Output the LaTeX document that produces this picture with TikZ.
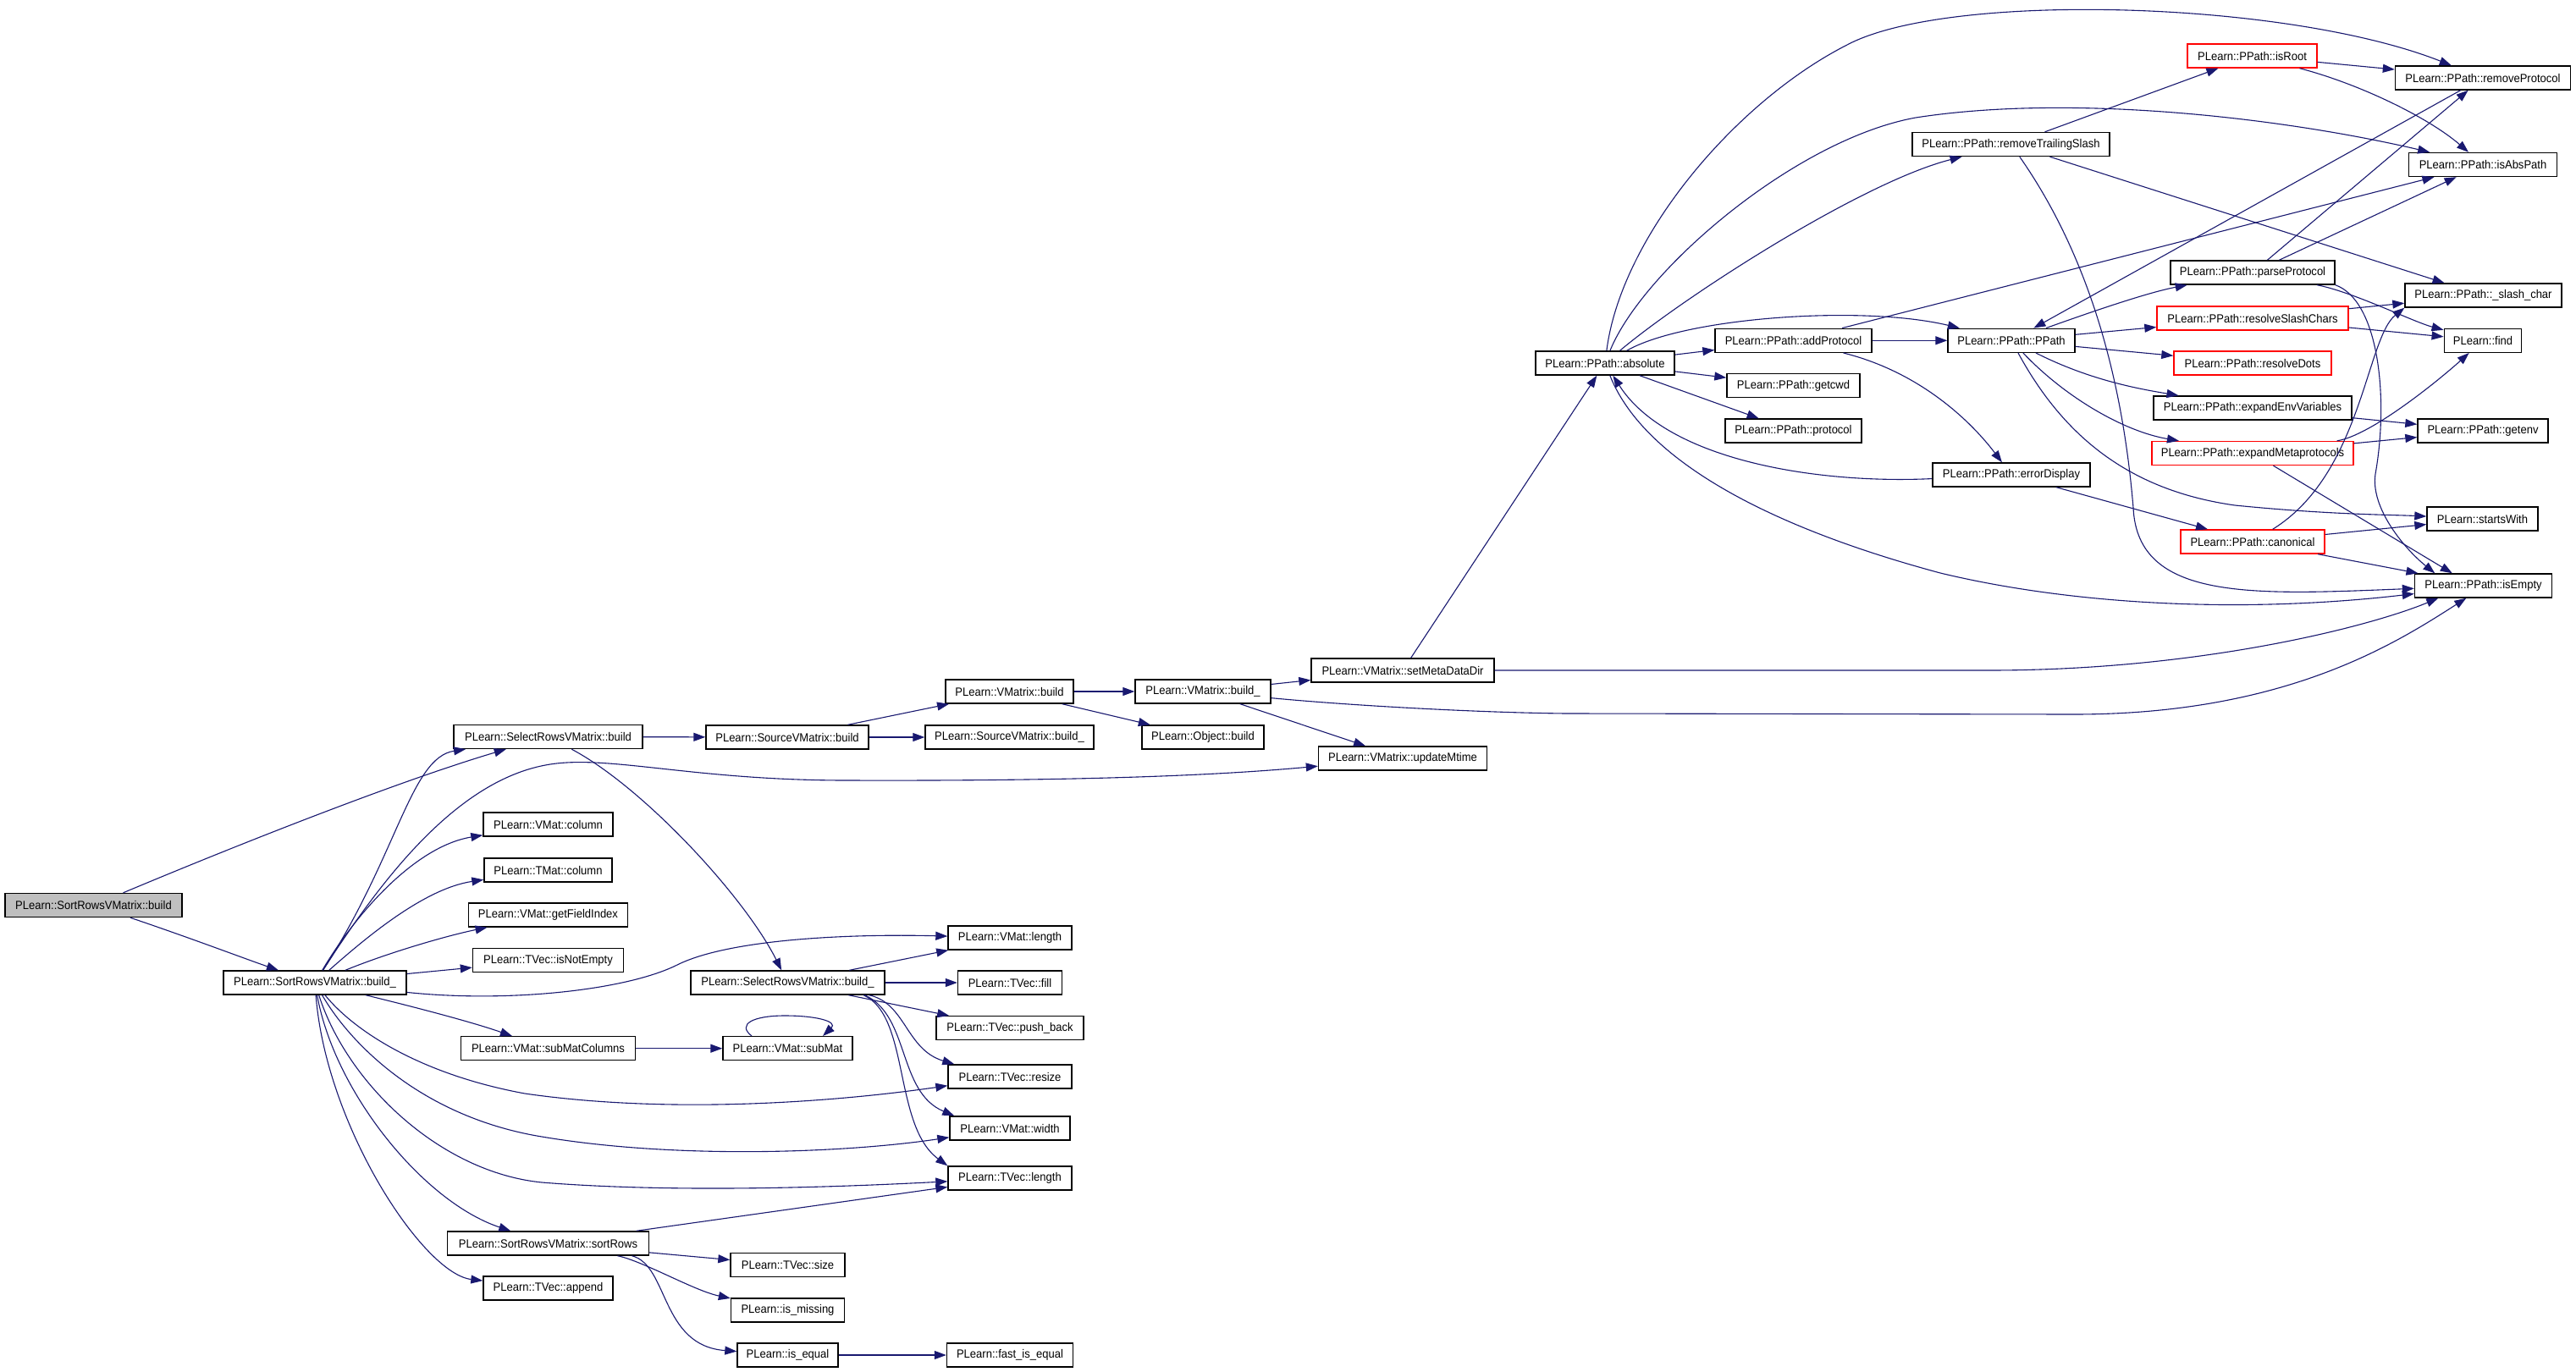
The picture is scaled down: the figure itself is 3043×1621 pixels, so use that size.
\documentclass[tikz,border=0pt]{standalone}
\usepackage{fontspec}
\setmainfont{Liberation Sans}[FakeStretch=0.93]
\usetikzlibrary{arrows.meta}
\definecolor{edgec}{RGB}{25,25,112}
\definecolor{rootfill}{RGB}{191,191,191}
\newcommand{\fnt}{\fontsize{7pt}{8pt}\selectfont}
\tikzset{
  box/.style={draw=black, line width=0.7pt, fill=white, minimum height=14pt, inner sep=0pt, font=\fnt},
  redbox/.style={box, draw=red},
  rootbox/.style={box, fill=rootfill},
  edge/.style={draw=edgec, line width=0.55pt, -{Triangle[length=7pt,width=5pt]}},
}
\begin{document}
\begin{tikzpicture}[x=0.5pt,y=-0.5pt]
\fill[white] (0,0) rectangle (3043,1621);
\useasboundingbox (0,0) rectangle (3043,1621);
% left part
\node[rootbox, minimum width=104.5pt] (A) at (110.5,1069.5) {PLearn::SortRowsVMatrix::build};
\node[box, minimum width=108pt] (B) at (372,1161) {PLearn::SortRowsVMatrix::build\_};
\node[box, minimum width=111.5pt] (SRb) at (647.5,870.5) {PLearn::SelectRowsVMatrix::build};
\node[box, minimum width=96pt] (SVb) at (930,871) {PLearn::SourceVMatrix::build};
\node[box, minimum width=75.5pt] (VMb) at (1192.5,817) {PLearn::VMatrix::build};
\node[box, minimum width=99.5pt] (SVbu) at (1192.5,871) {PLearn::SourceVMatrix::build\_};
\node[box, minimum width=80pt] (VMbu) at (1421,817) {PLearn::VMatrix::build\_};
\node[box, minimum width=72pt] (Ob) at (1421,871) {PLearn::Object::build};
\node[box, minimum width=108pt] (setMD) at (1657,792) {PLearn::VMatrix::setMetaDataDir};
\node[box, minimum width=99.5pt] (upd) at (1657,896) {PLearn::VMatrix::updateMtime};
\node[box, minimum width=76.5pt] (vcol) at (647.5,974) {PLearn::VMat::column};
\node[box, minimum width=75.5pt] (tcol) at (647.5,1028) {PLearn::TMat::column};
\node[box, minimum width=94pt] (gfi) at (647.5,1081) {PLearn::VMat::getFieldIndex};
\node[box, minimum width=89pt] (ine) at (647.5,1134.5) {PLearn::TVec::isNotEmpty};
\node[box, minimum width=114.5pt] (SRbu) at (930.5,1161) {PLearn::SelectRowsVMatrix::build\_};
\node[box, minimum width=103pt] (smc) at (647.5,1238.7) {PLearn::VMat::subMatColumns};
\node[box, minimum width=76.5pt] (sm) at (930.5,1238.7) {PLearn::VMat::subMat};
\node[box, minimum width=119pt] (sr) at (647.5,1469) {PLearn::SortRowsVMatrix::sortRows};
\node[box, minimum width=76.5pt] (app) at (647.5,1522) {PLearn::TVec::append};
\node[box, minimum width=67.5pt] (tsz) at (930.5,1494.7) {PLearn::TVec::size};
\node[box, minimum width=67pt] (ism) at (930.5,1548) {PLearn::is\_missing};
\node[box, minimum width=59.5pt] (ieq) at (930.5,1601) {PLearn::is\_equal};
\node[box, minimum width=73pt] (vlen) at (1193,1108) {PLearn::VMat::length};
\node[box, minimum width=61.5pt] (tfill) at (1193,1161) {PLearn::TVec::fill};
\node[box, minimum width=87pt] (pb) at (1193,1214.7) {PLearn::TVec::push\_back};
\node[box, minimum width=73pt] (rsz) at (1193,1272) {PLearn::TVec::resize};
\node[box, minimum width=71pt] (vw) at (1193,1333) {PLearn::VMat::width};
\node[box, minimum width=73pt] (tlen) at (1193,1392) {PLearn::TVec::length};
\node[box, minimum width=74.5pt] (fie) at (1193,1601) {PLearn::fast\_is\_equal};
% right part
\node[box, minimum width=82pt] (abs) at (1896,429) {PLearn::PPath::absolute};
\node[box, minimum width=92.5pt] (addp) at (2118.5,402.3) {PLearn::PPath::addProtocol};
\node[box, minimum width=78.5pt] (gcwd) at (2118.5,455.7) {PLearn::PPath::getcwd};
\node[box, minimum width=80.5pt] (prot) at (2118.5,509) {PLearn::PPath::protocol};
\node[box, minimum width=116.5pt] (rts) at (2375.5,170.5) {PLearn::PPath::removeTrailingSlash};
\node[box, minimum width=75pt] (pp) at (2376,402.3) {PLearn::PPath::PPath};
\node[box, minimum width=93pt] (errd) at (2376,561) {PLearn::PPath::errorDisplay};
\node[redbox, minimum width=76.5pt] (isr) at (2660.5,66) {PLearn::PPath::isRoot};
\node[box, minimum width=97pt] (parp) at (2661,322) {PLearn::PPath::parseProtocol};
\node[redbox, minimum width=113pt] (rsc) at (2661,376) {PLearn::PPath::resolveSlashChars};
\node[redbox, minimum width=93pt] (rdots) at (2661,429) {PLearn::PPath::resolveDots};
\node[box, minimum width=117pt] (eev) at (2661,482) {PLearn::PPath::expandEnvVariables};
\node[redbox, minimum width=119pt] (emp) at (2661,535.5) {PLearn::PPath::expandMetaprotocols};
\node[redbox, minimum width=85pt] (can) at (2661,640) {PLearn::PPath::canonical};
\node[box, minimum width=103.5pt] (rmp) at (2933,92) {PLearn::PPath::removeProtocol};
\node[box, minimum width=87.5pt] (iap) at (2933,194.5) {PLearn::PPath::isAbsPath};
\node[box, minimum width=92.5pt] (slc) at (2933.5,349) {PLearn::PPath::\_slash\_char};
\node[box, minimum width=45.75pt] (find) at (2933,402.3) {PLearn::find};
\node[box, minimum width=77pt] (genv) at (2933,509) {PLearn::PPath::getenv};
\node[box, minimum width=65.5pt] (sw) at (2932.5,613) {PLearn::startsWith};
\node[box, minimum width=81pt] (ise) at (2933.5,692) {PLearn::PPath::isEmpty};
% edges, left
\draw[edge] (A) .. controls (300,990) and (480,920) .. (SRb);
\draw[edge] (A) .. controls (230,1110) and (290,1133) .. (B);
\draw[edge] (B) .. controls (470,1010) and (485,895) .. (SRb);
\draw[edge] (B) .. controls (450,1040) and (540,920) .. (650,903) .. controls (720,892) and (820,922) .. (1000,922) .. controls (1300,923) and (1450,915) .. (upd);
\draw[edge] (B) .. controls (420,1080) and (490,1000) .. (vcol);
\draw[edge] (B) .. controls (430,1110) and (500,1050) .. (tcol);
\draw[edge] (B) .. controls (460,1125) and (530,1105) .. (gfi);
\draw[edge] (B) -- (ine);
\draw[edge] (B) .. controls (600,1185) and (740,1170) .. (800,1140) .. controls (860,1110) and (1000,1103) .. (vlen);
\draw[edge] (B) .. controls (470,1185) and (550,1205) .. (smc);
\draw[edge] (B) .. controls (420,1220) and (500,1270) .. (620,1292) .. controls (800,1318) and (1000,1300) .. (rsz);
\draw[edge] (B) .. controls (415,1235) and (500,1320) .. (640,1343) .. controls (800,1370) and (1000,1362) .. (vw);
\draw[edge] (B) .. controls (410,1280) and (520,1385) .. (640,1397) .. controls (800,1410) and (1000,1402) .. (tlen);
\draw[edge] (B) .. controls (395,1290) and (500,1420) .. (sr);
\draw[edge] (B) .. controls (385,1330) and (500,1505) .. (app);
\draw[edge] (SRb) -- (SVb);
\draw[edge] (SRb) .. controls (760,930) and (880,1060) .. (SRbu);
\draw[edge] (SVb) -- (VMb);
\draw[edge] (SVb) -- (SVbu);
\draw[edge] (VMb) -- (VMbu);
\draw[edge] (VMb) -- (Ob);
\draw[edge] (VMbu) -- (setMD);
\draw[edge] (VMbu) -- (upd);
\draw[edge] (VMbu) .. controls (1600,834) and (1750,842) .. (1850,843) -- (2450,844) .. controls (2700,844) and (2830,760) .. ([xshift=30.75pt]ise.south west);
\draw[edge] (SRbu) -- (vlen);
\draw[edge] (SRbu) -- (tfill);
\draw[edge] (SRbu) -- (pb);
\draw[edge] ([xshift=48pt]SRbu.south) .. controls (1070,1185) and (1070,1240) .. ([xshift=4pt]rsz.north west);
\draw[edge] ([xshift=45.5pt]SRbu.south) .. controls (1075,1200) and (1060,1290) .. ([xshift=3pt]vw.north west);
\draw[edge] ([xshift=44.75pt]SRbu.south) .. controls (1075,1200) and (1055,1330) .. (tlen.north west);
\draw[edge] (smc) -- (sm);
\draw[edge] ([xshift=-21.25pt]sm.north) .. controls (870,1210) and (890,1200) .. (927,1200) .. controls (965,1200) and (990,1207) .. ([xshift=20.75pt]sm.north);
\draw[edge] (sr) -- (tlen);
\draw[edge] (sr) -- (tsz);
\draw[edge] ([xshift=41pt]sr.south) .. controls (760,1490) and (820,1525) .. (ism);
\draw[edge] ([xshift=49.5pt]sr.south) .. controls (790,1495) and (780,1590) .. (ieq);
\draw[edge] (ieq) -- (fie);
% edges, right
\draw[edge] (setMD) -- (abs);
\draw[edge] (setMD) -- (2350,792) .. controls (2600,792) and (2800,740) .. ([xshift=14.25pt]ise.south west);
\draw[edge] (abs) -- (addp);
\draw[edge] (abs) -- (gcwd);
\draw[edge] (abs) -- (prot);
\draw[edge] (abs) .. controls (1990,350) and (2200,215) .. (rts);
\draw[edge] (abs) .. controls (1915,280) and (2050,120) .. (2182,53) .. controls (2300,-10) and (2700,0) .. (rmp);
\draw[edge] (abs) .. controls (1940,320) and (2120,165) .. (2263,139) .. controls (2450,110) and (2700,140) .. (iap);
\draw[edge] (abs) .. controls (1990,375) and (2200,360) .. (pp);
\draw[edge] (abs) .. controls (1940,540) and (2080,620) .. (2292,677) .. controls (2450,715) and (2650,725) .. (ise);
\draw[edge] (errd) .. controls (2150,572) and (1970,545) .. (abs);
\draw[edge] (addp) -- (pp);
\draw[edge] (addp) -- (iap);
\draw[edge] (addp) .. controls (2270,440) and (2330,500) .. (errd);
\draw[edge] (rts) -- (isr);
\draw[edge] (rts) -- (slc);
\draw[edge] (rts) .. controls (2480,320) and (2510,480) .. (2520,600) .. controls (2525,710) and (2660,703) .. (ise);
\draw[edge] (isr) -- (rmp);
\draw[edge] (isr) .. controls (2790,100) and (2870,140) .. (iap);
\draw[edge] (rmp) -- (pp);
\draw[edge] (pp) .. controls (2480,365) and (2540,345) .. (parp);
\draw[edge] (pp) -- (rsc);
\draw[edge] (pp) -- (rdots);
\draw[edge] (pp) .. controls (2470,450) and (2530,460) .. (eev);
\draw[edge] (pp) .. controls (2440,470) and (2510,510) .. (emp);
\draw[edge] (pp) .. controls (2440,520) and (2520,580) .. (2640,597) .. controls (2750,608) and (2820,608) .. (sw);
\draw[edge] (errd) -- (can);
\draw[edge] (parp) -- (rmp);
\draw[edge] (parp) -- (iap);
\draw[edge] (parp) .. controls (2780,345) and (2850,380) .. (find);
\draw[edge] (parp.south east) .. controls (2810,355) and (2822,470) .. (2806,560) .. controls (2800,600) and (2840,648) .. ([xshift=12.25pt]ise.north west);
\draw[edge] (rsc) -- (slc);
\draw[edge] (rsc) -- (find);
\draw[edge] (eev) -- (genv);
\draw[edge] (emp) .. controls (2800,515) and (2880,450) .. (find);
\draw[edge] (emp) -- (genv);
\draw[edge] (emp) -- ([xshift=22.5pt]ise.north west);
\draw[edge] (can) -- (sw);
\draw[edge] (can) -- (ise);
\draw[edge] (can) .. controls (2790,560) and (2795,400) .. (slc.south west);
\end{tikzpicture}
\end{document}
